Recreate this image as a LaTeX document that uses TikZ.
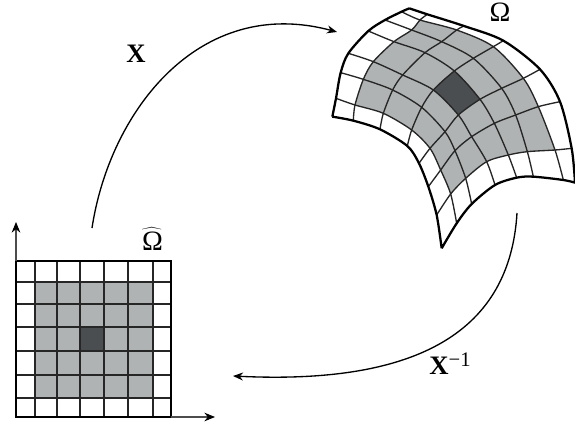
\documentclass[tikz,border=0pt]{standalone}
\usepackage{fontspec}
\setmainfont{Liberation Serif}
\usetikzlibrary{arrows.meta}
\definecolor{cellgray}{HTML}{B0B3B3}
\definecolor{celldark}{HTML}{4A4E50}
\newcommand{\rowdef}[2]{\foreach \px/\py [count=\j from 0] in {#2} {\coordinate (p-#1-\j) at (\px,\py);}}
\tikzset{
  gridline/.style={line width=1pt,black!85},
  border/.style={line width=1.7pt,black},
  flow/.style={line width=1pt,black,-{Stealth[length=7.5pt,width=6pt]}},
  axis/.style={line width=.8pt,black!70,-{Stealth[length=8pt,width=6.5pt,color=black]}},
  lab/.style={inner sep=0pt,font=\fontsize{20}{22}\selectfont},
  omega/.style={inner sep=0pt,font=\fontsize{21}{23}\selectfont}
}
\begin{document}
\begin{tikzpicture}[x=.75pt,y=-.75pt]
\useasboundingbox (0,0) rectangle (575,428);
% flat square
\fill[cellgray] (35,282) rectangle (153,398);
\fill[celldark] (80,327) rectangle (104,351);
\foreach \gx in {35,57,80,104,128,153} \draw[gridline] (\gx,261) -- (\gx,417);
\foreach \gy in {282,304,327,351,375,398} \draw[gridline] (16,\gy) -- (171,\gy);
\draw[border] (16,261) rectangle (171,417);
\coordinate (tl) at (16,261);
\coordinate (ytip) at (16,222);
\coordinate (br) at (171,417);
\coordinate (xtip) at (215,417);
\draw[axis] (tl) -- (ytip);
\draw[axis] (br) -- (xtip);
% curved patch
\begin{scope}[shift={(320,0)},x=.25pt,y=-.25pt]
\rowdef{0}{37/350,100/362,180/388,262/438,297/490,325/560,350/645,365/745}
\rowdef{1}{48/295,105/315,190/340,275/390,330/445,362/510,392/582,410/670}
\rowdef{2}{62/218,130/238,218/270,305/322,375/395,405/452,437/535,455/612}
\rowdef{3}{85/160,160/185,248/225,340/270,415/345,455/410,500/485,525/555}
\rowdef{4}{145/93,222/125,315/158,403/213,480/298,523/370,565/465,590/533}
\rowdef{5}{195/60,275/90,365/125,460/175,545/265,587/345,622/455,640/530}
\rowdef{6}{245/35,300/60,410/90,520/140,610/235,655/320,705/450,730/540}
\rowdef{7}{268/25,322/43,432/78,550/122,660/208,720/305,755/445,765/548}
\fill[cellgray] plot[smooth] coordinates {(p-1-1)(p-1-2)(p-1-3)(p-1-4)(p-1-5)(p-1-6)}
  -- plot[smooth] coordinates {(p-1-6)(p-2-6)(p-3-6)(p-4-6)(p-5-6)(p-6-6)}
  -- plot[smooth] coordinates {(p-6-6)(p-6-5)(p-6-4)(p-6-3)(p-6-2)(p-6-1)}
  -- plot[smooth] coordinates {(p-6-1)(p-5-1)(p-4-1)(p-3-1)(p-2-1)(p-1-1)} -- cycle;
\fill[celldark] (p-3-3) to[bend left=6] (p-4-3) to[bend left=6] (p-4-4) to[bend right=6] (p-3-4) to[bend right=6] (p-3-3);
\foreach \i in {1,...,6}
  \draw[gridline] plot[smooth] coordinates {(p-\i-0)(p-\i-1)(p-\i-2)(p-\i-3)(p-\i-4)(p-\i-5)(p-\i-6)(p-\i-7)};
\foreach \j in {1,...,6}
  \draw[gridline] plot[smooth] coordinates {(p-0-\j)(p-1-\j)(p-2-\j)(p-3-\j)(p-4-\j)(p-5-\j)(p-6-\j)(p-7-\j)};
\draw[border,line join=miter]
     plot[smooth] coordinates {(p-0-0)(p-1-0)(p-2-0)(p-3-0)(p-4-0)(p-5-0)(p-6-0)(p-7-0)}
  plot[smooth] coordinates {(p-7-0)(p-7-1)(p-7-2)(p-7-3)(p-7-4)(p-7-5)(p-7-6)(p-7-7)}
  plot[smooth] coordinates {(p-0-0)(p-0-1)(p-0-2)(p-0-3)(p-0-4)(p-0-5)(p-0-6)(p-0-7)}
  plot[smooth] coordinates {(p-0-7)(p-1-7)(p-2-7)(p-3-7)(p-4-7)(p-5-7)(p-6-7)(p-7-7)};
\end{scope}
% mapping arrows
\coordinate (xs) at (92,228);
\coordinate (xe) at (337,32);
\coordinate (is) at (517,213);
\coordinate (ie) at (233,376);
\draw[flow] (xs) .. controls (110,110) and (200,-5) .. (xe);
\draw[flow] (is) .. controls (510,330) and (420,385) .. (ie);
% labels
\node[lab] (lx) at (136,54) {\textbf{X}};
\node[omega] (lo) at (500,12) {Ω};
\node[omega] (lh) at (152.5,239) {$\widehat{\mbox{Ω}}$};
\node[lab] (lxi) at (450,364) {\textbf{X}\raisebox{6pt}{\fontsize{15.5}{17}\selectfont −1}};
\end{tikzpicture}
\end{document}
